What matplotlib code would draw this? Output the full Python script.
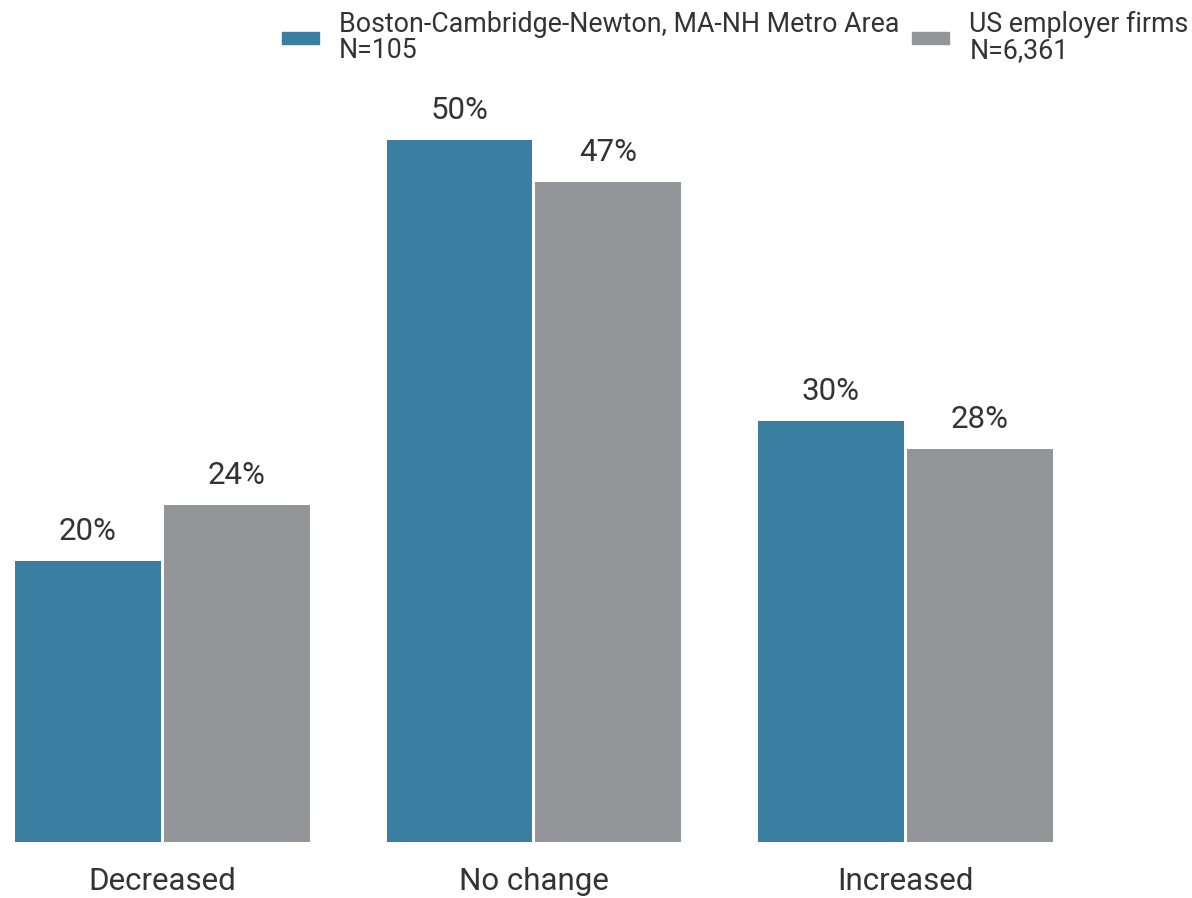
import numpy as np
import matplotlib.pyplot as plt
from matplotlib.patches import Patch

categories = ["Decreased", "No change", "Increased"]
boston = [20, 50, 30]
us_firms = [24, 47, 28]
series_names = ["Boston-Cambridge-Newton, MA-NH Metro Area\nN=105",
                "US employer firms\nN=6,361"]

blue = "#3a7ea1"
gray = "#949599"
text_color = "#333333"

plt.rcParams['font.family'] = ['Roboto', 'DejaVu Sans']

fig = plt.figure(figsize=(11.92, 8.98), dpi=100)
# axes placed in pixel terms: left 15px, bottom at 842px from top
ax = fig.add_axes([15 / 1192, (898 - 842) / 898, (1190 - 15) / 1192, 842 / 898])

x = np.arange(len(categories))
width = 0.393
gap = 0.004
b1 = ax.bar(x - width / 2 - gap, boston, width, color=blue, label=series_names[0])
b2 = ax.bar(x + width / 2 + gap, us_firms, width, color=gray, label=series_names[1])

for bars, vals in [(b1, boston), (b2, us_firms)]:
    for rect, v in zip(bars, vals):
        ax.annotate(f"{v}%", (rect.get_x() + rect.get_width() / 2, rect.get_height()),
                    xytext=(0, 11), textcoords="offset points", ha="center", va="bottom",
                    fontsize=22.5, color=text_color)

left = -(width + gap)
ax.set_xlim(left, left + (1190 - 15) / 371.5)
ax.set_ylim(0, 60)
ax.set_xticks(x)
ax.set_xticklabels(categories, fontsize=22.5, color=text_color)
ax.tick_params(axis="x", length=0, pad=18)
ax.set_yticks([])
for s in ax.spines.values():
    s.set_visible(False)

handles = [Patch(color=blue), Patch(color=gray)]
leg = fig.legend(handles, series_names, loc="upper right", bbox_to_anchor=(1.0107, 1.006), ncol=2,
                 frameon=False, fontsize=19.3, handlelength=1.4, handleheight=0.3,
                 handletextpad=0.75, columnspacing=0.45, labelcolor=text_color, borderaxespad=0.2,
                 labelspacing=0.15)
for t in leg.get_texts():
    t.set_linespacing(0.95)

plt.savefig("out.png", dpi=100)
